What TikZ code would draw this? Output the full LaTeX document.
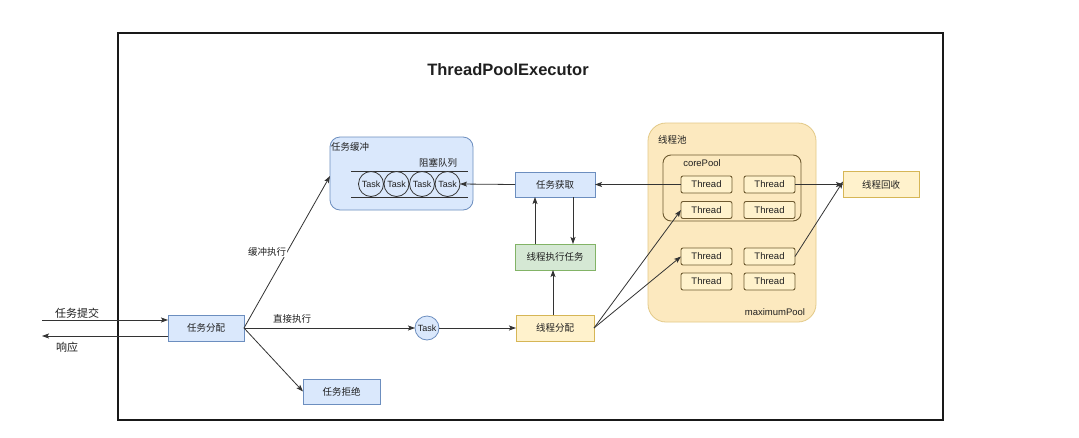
\documentclass[tikz,border=0pt]{standalone}
\usepackage{fontspec}
\setmainfont{Liberation Sans}
\newfontfamily\cjk{Noto Sans CJK SC}
\usetikzlibrary{arrows.meta}
\definecolor{bfill}{HTML}{DAE8FC}
\definecolor{bdraw}{HTML}{6C8EBF}
\definecolor{gfill}{HTML}{D5E8D4}
\definecolor{gdraw}{HTML}{82B366}
\definecolor{yfill}{HTML}{FFF2CC}
\definecolor{ydraw}{HTML}{D6B656}
\definecolor{pfill}{HTML}{FCE9BF}
\definecolor{pdraw}{HTML}{E3C987}
\definecolor{tdraw}{HTML}{6E5A30}
\definecolor{ln}{HTML}{333333}
\begin{document}
\begin{tikzpicture}[x=1pt,y=-1pt,
  every node/.style={inner sep=0pt, outer sep=0pt, text=black!88},
  lbl/.style={font=\cjk\fontsize{9.5}{11}\selectfont},
  bluebox/.style={draw=bdraw, fill=bfill, line width=0.8pt, minimum width=#1, minimum height=25pt, font=\cjk\fontsize{9.5}{11}\selectfont},
  greenbox/.style={draw=gdraw, fill=gfill, line width=0.8pt, minimum width=#1, minimum height=26pt, font=\cjk\fontsize{9.5}{11}\selectfont},
  yellowbox/.style={draw=ydraw, fill=yfill, line width=0.8pt, minimum width=#1, minimum height=26pt, font=\cjk\fontsize{9.5}{11}\selectfont},
  thr/.style={draw=tdraw, fill=yfill, line width=0.9pt, rounded corners=2pt, minimum width=51pt, minimum height=17pt, font=\fontsize{9.5}{11}\selectfont},
  qtask/.style={circle, draw=black!80, fill=bfill, line width=0.8pt, minimum size=25pt, font=\fontsize{9}{10}\selectfont},
  arr/.style={draw=ln, line width=0.8pt, -{Stealth[length=7pt,width=5pt,inset=1.5pt]}},
  ln/.style={draw=ln, line width=0.8pt}
]
\useasboundingbox (0,0) rectangle (1079,437);
\fill[white] (0,0) rectangle (1079,437);

% frame
\draw[line width=2.6pt, black!90] (118,33) rectangle (943,420);
\node[font=\bfseries\fontsize{16.5}{18}\selectfont] (title) at (508,70) {ThreadPoolExecutor};

% buffer box
\draw[draw=bdraw, fill=bfill, line width=0.8pt, rounded corners=10pt] (330,137) rectangle (473,210);
\node[lbl, anchor=west] (bufl) at (331,147) {任务缓冲};
\node[lbl] (queuel) at (438,163) {阻塞队列};
\draw[ln] (351,171) -- (468,171);
\draw[ln] (351,197) -- (468,197);
\node[qtask] (q1) at (371,184) {Task};
\node[qtask] (q2) at (396.5,184) {Task};
\node[qtask] (q3) at (422,184) {Task};
\node[qtask] (q4) at (447.5,184) {Task};
\coordinate (buf) at (330,176);

% pool
\draw[draw=pdraw, fill=pfill, line width=0.8pt, rounded corners=18pt] (648,123) rectangle (816,322);
\node[lbl, anchor=west] (pooll) at (658,140) {线程池};
\node[font=\fontsize{9.5}{11}\selectfont] (maxl) at (775,312) {maximumPool};
\draw[draw=tdraw, line width=0.9pt, rounded corners=8pt] (663,155) rectangle (801,221);
\node[font=\fontsize{9.5}{11}\selectfont] (corel) at (702,163) {corePool};

\node[thr] (t11) at (706.5,184.5) {Thread};
\node[thr] (t12) at (769.5,184.5) {Thread};
\node[thr] (t21) at (706.5,210) {Thread};
\node[thr] (t22) at (769.5,210) {Thread};
\node[thr] (t31) at (706.5,256.5) {Thread};
\node[thr] (t32) at (769.5,256.5) {Thread};
\node[thr] (t41) at (706.5,281.5) {Thread};
\node[thr] (t42) at (769.5,281.5) {Thread};

% boxes
\node[bluebox=76pt, minimum height=26pt] (fenpei) at (206,328) {任务分配};
\node[bluebox=77pt] (jujue) at (341.5,391.5) {任务拒绝};
\node[bluebox=80pt] (huoqu) at (555,184.5) {任务获取};
\node[greenbox=80pt] (zhixing) at (555,257) {线程执行任务};
\node[yellowbox=78pt] (xcfp) at (555,328) {线程分配};
\node[yellowbox=76pt, minimum height=26pt] (huishou) at (881,184.5) {线程回收};
\node[circle, draw=bdraw, fill=bfill, line width=0.8pt, minimum size=24pt, font=\fontsize{9}{10}\selectfont] (task) at (427,328) {Task};

% outside labels
\coordinate (inL) at (42,320);
\coordinate (outL) at (42,336);
\node[font=\cjk\fontsize{11}{13}\selectfont] (tijiao) at (77,313) {任务提交};
\node[font=\cjk\fontsize{11}{13}\selectfont] (xiangying) at (67,347) {响应};

% connectors
\draw[arr] (inL) -- (fenpei.west |- inL);
\draw[arr] (fenpei.west |- outL) -- (outL);
\draw[arr] (fenpei.east) -- (buf);
\node[lbl, fill=white, inner sep=1pt] (hcl) at (267,252) {缓冲执行};
\draw[arr] (fenpei.east) -- (jujue.west);
\draw[arr] (fenpei.east) -- (task.west);
\node[lbl] (zjl) at (292,319) {直接执行};
\draw[arr] (task.east) -- (xcfp.west);
\draw[arr] ([xshift=-2pt]xcfp.north) -- ([xshift=-2pt]zhixing.south);
\draw[arr] ([xshift=-20pt]zhixing.north) -- ([xshift=-20pt]huoqu.south);
\draw[arr] ([xshift=18pt]huoqu.south) -- ([xshift=18pt]zhixing.north);
\draw[arr] (huoqu.west) -- (q4.east);
\draw[arr] (t11.west) -- (huoqu.east);
\draw[arr] (xcfp.east) -- (t21.west);
\draw[arr] (xcfp.east) -- (t31.west);
\draw[arr] (t12.east) -- (huishou.west);
\draw[arr] (t32.east) -- ([yshift=3pt]huishou.west);
\end{tikzpicture}
\end{document}
